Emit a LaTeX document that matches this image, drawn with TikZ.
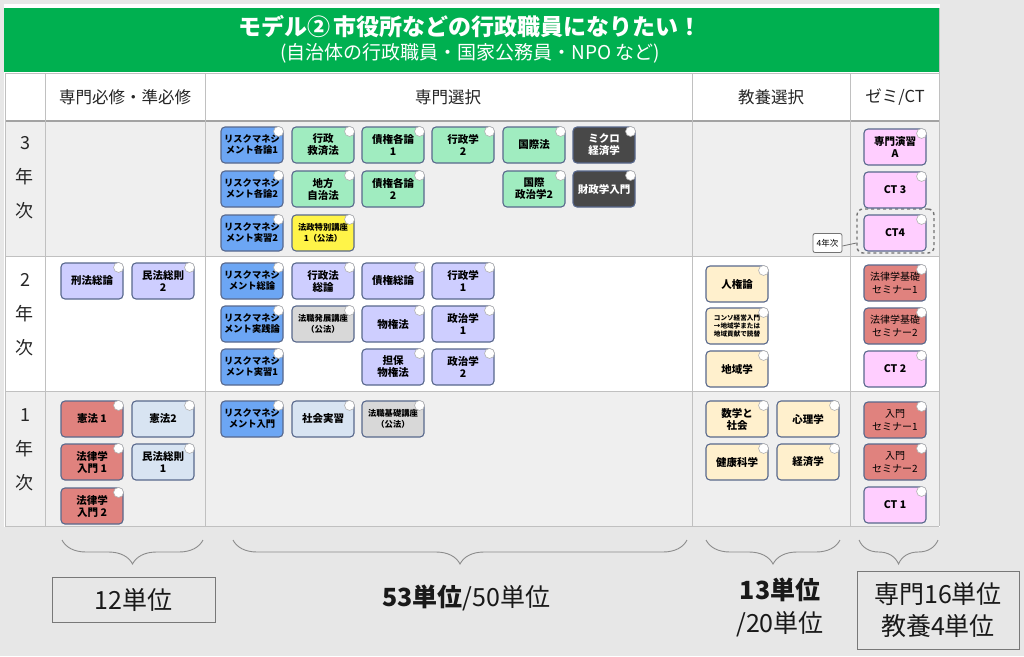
\documentclass[tikz,border=0pt]{standalone}
\usepackage{fontspec}
\setmainfont{Noto Sans CJK JP}
\usetikzlibrary{decorations.pathreplacing}
\definecolor{pagebg}{RGB}{231,231,231}
\definecolor{hdrgreen}{RGB}{0,176,80}
\definecolor{rowgray}{RGB}{239,239,239}
\definecolor{gridc}{RGB}{192,192,192}
\definecolor{bordc}{RGB}{88,104,140}
\definecolor{cBlue}{RGB}{108,166,244}
\definecolor{cGreen}{RGB}{160,236,192}
\definecolor{cDark}{RGB}{72,72,72}
\definecolor{cYellow}{RGB}{255,244,72}
\definecolor{cLav}{RGB}{206,206,255}
\definecolor{cLGray}{RGB}{216,216,216}
\definecolor{cPale}{RGB}{255,240,205}
\definecolor{cSalmon}{RGB}{224,130,126}
\definecolor{cPink}{RGB}{255,206,255}
\definecolor{cLBlue}{RGB}{216,228,242}
\definecolor{dotc}{RGB}{176,176,176}
\definecolor{bracec}{RGB}{140,140,140}
\definecolor{sumc}{RGB}{120,120,120}
\newcommand{\cb}[4]{%
  \node[cbox,#3] (#1) at (#2) {#4};
  \draw[cdot] ([xshift=-5pt,yshift=-5pt]#1.north east) circle (5pt);}
\begin{document}
\begin{tikzpicture}[x=1pt,y=-1pt,
  cbox/.style={draw=bordc, line width=1.1pt, rounded corners=4pt,
    minimum width=62pt, minimum height=36pt, inner sep=1pt, align=center,
    text=black, font=\bfseries\fontsize{10.5}{12}\selectfont},
  cdot/.style={fill=white, draw=dotc, line width=0.6pt},
  blueb/.style={fill=cBlue, font=\bfseries\fontsize{9.3}{11}\selectfont},
  greenb/.style={fill=cGreen},
  darkb/.style={fill=cDark, text=white},
  yellowb/.style={fill=cYellow, font=\bfseries\fontsize{8.3}{10.5}\selectfont},
  lavb/.style={fill=cLav},
  lgrayb/.style={fill=cLGray, font=\bfseries\fontsize{8.3}{10.5}\selectfont},
  paleb/.style={fill=cPale},
  salb/.style={fill=cSalmon},
  semb/.style={fill=cSalmon, font=\fontsize{10}{12.5}\selectfont},
  pinkb/.style={fill=cPink},
  lblueb/.style={fill=cLBlue},
  gridl/.style={draw=gridc, line width=1pt},
  colhead/.style={font=\fontsize{16.5}{18}\selectfont, text=black!85},
  yearl/.style={font=\fontsize{18}{34}\selectfont, align=center, text=black!85},
  bracel/.style={draw=bracec, line width=0.9pt, decorate,
    decoration={brace, amplitude=24pt, mirror}},
  sumbox/.style={draw=sumc, line width=1pt, align=center, inner sep=2pt},
  sumt/.style={font=\fontsize{25}{32}\selectfont, align=center, text=black!90}
]
\useasboundingbox (0,0) rectangle (1024,656);
\fill[pagebg] (0,0) rectangle (1024,656);
% table frame
\fill[white] (4,4) rectangle (940,527);
\fill[hdrgreen] (4,8) rectangle (939,72);
\fill[rowgray] (5,121) rectangle (939,256);
\fill[rowgray] (5,391) rectangle (939,526);
\draw[gridl] (5,73) -- (939,73);
\draw[draw=gridc!85!black, line width=1.6pt] (5,121) -- (939,121);
\draw[gridl] (5,256) -- (939,256);
\draw[gridl] (5,391) -- (939,391);
\draw[gridl] (5,526) -- (939,526);
\draw[gridl] (5,73) -- (5,526);
\draw[gridl] (939,8) -- (939,526);
\draw[gridl] (45,73) -- (45,526);
\draw[gridl] (205,73) -- (205,526);
\draw[gridl] (692,73) -- (692,526);
\draw[gridl] (850,73) -- (850,526);
% titles
\node[text=white, font=\bfseries\fontsize{23}{26}\selectfont] (title) at (470,27) {モデル②\,市役所などの行政職員になりたい！};
\node[text=white, font=\fontsize{19}{22}\selectfont] (subtitle) at (470,53) {(自治体の行政職員・国家公務員・NPO など)};
% column headers
\node[colhead] (h1) at (125,97) {専門必修・準必修};
\node[colhead] (h2) at (448,97) {専門選択};
\node[colhead] (h3) at (771,97) {教養選択};
\node[colhead] (h4) at (895,97) {ゼミ/CT};
% year labels
\node[yearl] (y3) at (25,178) {3\\年\\次};
\node[yearl] (y2) at (25,315) {2\\年\\次};
\node[yearl] (y1) at (25,450) {1\\年\\次};
% ---- 3rd year
\cb{a1}{252,145}{blueb}{リスクマネジ\\メント各論1}
\cb{a2}{323,145}{greenb}{行政\\救済法}
\cb{a3}{393,145}{greenb}{債権各論\\1}
\cb{a4}{463,145}{greenb}{行政学\\2}
\cb{a5}{534,145}{greenb}{国際法}
\cb{a6}{604,145}{darkb}{ミクロ\\経済学}
\cb{a7}{252,189}{blueb}{リスクマネジ\\メント各論2}
\cb{a8}{323,189}{greenb}{地方\\自治法}
\cb{a9}{393,189}{greenb}{債権各論\\2}
\cb{a10}{534,189}{greenb}{国際\\政治学2}
\cb{a11}{604,189}{darkb}{財政学入門}
\cb{a12}{252,233}{blueb}{リスクマネジ\\メント実習2}
\cb{a13}{323,233}{yellowb}{法政特別講座\\1（公法）}
\node[draw=black!55, dashed, line width=1.4pt, rounded corners=6pt,
  minimum width=77pt, minimum height=44pt] (dz) at (895.5,231) {};
\cb{z1}{895,147}{pinkb}{専門演習\\A}
\cb{z2}{895,190}{pinkb}{CT 3}
\cb{z3}{895,233}{pinkb}{CT4}
\node[draw=black!55, fill=white, rounded corners=2pt, line width=0.8pt,
  minimum width=29pt, minimum height=19pt, inner sep=1pt,
  font=\fontsize{8.5}{10}\selectfont] (cl) at (827.5,243) {4年次};
\draw[draw=black!55, line width=0.8pt] ([yshift=-3pt]cl.east) -- ([yshift=-12pt]dz.west);
% ---- 2nd year
\cb{b1}{92,281}{lavb}{刑法総論}
\cb{b2}{163,281}{lavb}{民法総則\\2}
\cb{b3}{252,281}{blueb}{リスクマネジ\\メント総論}
\cb{b4}{323,281}{lavb}{行政法\\総論}
\cb{b5}{393,281}{lavb}{債権総論}
\cb{b6}{463,281}{lavb}{行政学\\1}
\cb{b7}{252,324}{blueb}{リスクマネジ\\メント実践論}
\cb{b8}{323,324}{lgrayb}{法職発展講座\\（公法）}
\cb{b9}{393,324}{lavb}{物権法}
\cb{b10}{463,324}{lavb}{政治学\\1}
\cb{b11}{252,367}{blueb}{リスクマネジ\\メント実習1}
\cb{b12}{393,367}{lavb}{担保\\物権法}
\cb{b13}{463,367}{lavb}{政治学\\2}
\cb{b14}{737,284}{paleb}{人権論}
\cb{b15}{737,326}{paleb,font=\bfseries\fontsize{6.6}{8}\selectfont}{コンソ経営入門\\→地域学または\\地域貢献で読替}
\cb{b16}{737,369}{paleb}{地域学}
\cb{b17}{895,283}{semb}{法律学基礎\\セミナー1}
\cb{b18}{895,326}{semb}{法律学基礎\\セミナー2}
\cb{b19}{895,369}{pinkb}{CT 2}
% ---- 1st year
\cb{c1}{92,419}{salb}{憲法 1}
\cb{c2}{163,419}{lblueb}{憲法2}
\cb{c3}{92,462}{salb}{法律学\\入門 1}
\cb{c4}{163,462}{lblueb}{民法総則\\1}
\cb{c5}{92,506}{salb}{法律学\\入門 2}
\cb{c6}{252,419}{blueb}{リスクマネジ\\メント入門}
\cb{c7}{323,419}{lblueb}{社会実習}
\cb{c8}{393,419}{lgrayb}{法職基礎講座\\（公法）}
\cb{c9}{737,419}{paleb}{数学と\\社会}
\cb{c10}{808,419}{paleb}{心理学}
\cb{c11}{737,462}{paleb}{健康科学}
\cb{c12}{808,462}{paleb}{経済学}
\cb{c13}{895,420}{semb}{入門\\セミナー1}
\cb{c14}{895,462}{semb}{入門\\セミナー2}
\cb{c15}{895,505}{pinkb}{CT 1}
% ---- braces
\draw[bracel] (62,540) -- (203,540);
\draw[bracel] (233,540) -- (687,540);
\draw[bracel] (706,540) -- (840,540);
\draw[bracel] (859,540) -- (938,540);
% ---- sums
\node[sumbox, sumt, minimum width=163pt, minimum height=45pt] (s1) at (133.5,599.5) {12単位};
\node[sumt] (s2) at (466,598) {\textbf{53単位}/50単位};
\node[sumt, font=\fontsize{25}{33}\selectfont] (s3) at (780,607) {\textbf{13単位}\\/20単位};
\node[sumbox, sumt, minimum width=162pt, minimum height=78pt] (s4) at (938,610) {専門16単位\\教養4単位};
\end{tikzpicture}
\end{document}
